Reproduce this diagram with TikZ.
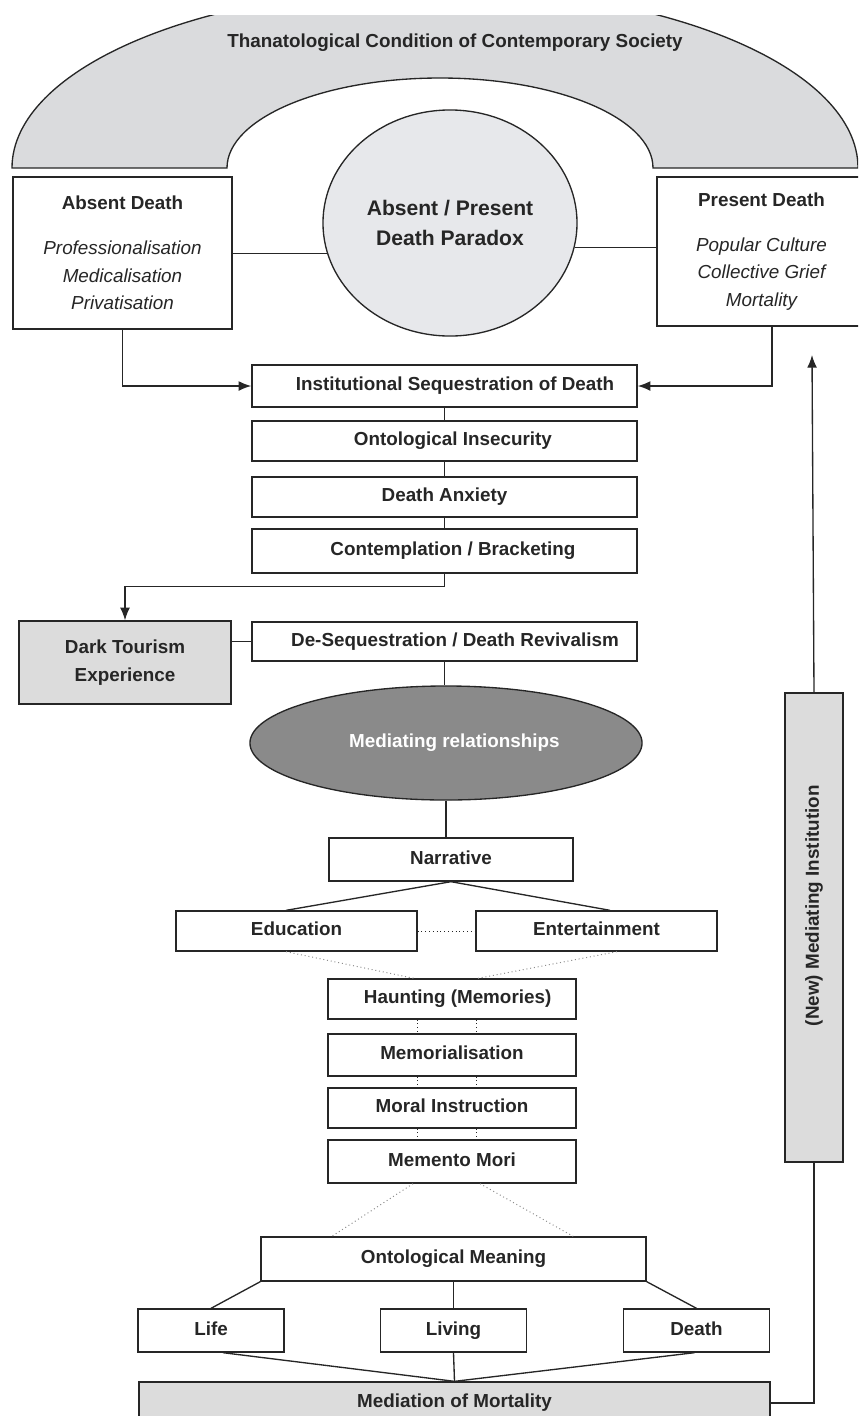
\documentclass[tikz,border=0pt]{standalone}
\usepackage{fontspec}
\setmainfont{Liberation Sans}
\usetikzlibrary{shapes.geometric,arrows.meta}

\definecolor{bandgrey}{HTML}{DADBDD}
\definecolor{circgrey}{HTML}{E7E8EB}
\definecolor{boxgrey}{HTML}{DCDCDC}
\definecolor{darkgrey}{HTML}{8A8A8A}
\newcommand{\itl}[1]{{\mdseries\itshape #1}}

\begin{document}
\begin{tikzpicture}[x=0.025cm, y=0.025cm, line width=0.95pt, color=black!85,
    >={Latex[length=9pt,width=7pt]},
    txt/.style={font=\fontsize{13.4}{19.6}\selectfont\bfseries},
    box/.style={txt, draw, rectangle, inner sep=0pt, minimum height=1.05cm, text height=9.7pt, text depth=2.9pt},
    multibox/.style={box, align=center, text height=, text depth=},
    widebox/.style={box, minimum width=9.625cm},
    midbox/.style={box, minimum width=6.2cm},
    greyfill/.style={fill=boxgrey},
    faintline/.style={dotted, black!45, line width=0.7pt},
    dotline/.style={dotted, line width=0.7pt}]
    \useasboundingbox (0,0) rectangle (858,-1416);
    \clip (0,0) rectangle (858,-1416);

    % arch
    \begin{scope}
        \clip (0,-15) rectangle (858,-200);
        \draw[fill=bandgrey] (12,-168) arc[start angle=180, end angle=0, x radius=423, y radius=180]
            -- (653,-168) arc[start angle=0, end angle=180, x radius=213, y radius=90] -- cycle;
    \end{scope}
    \node[txt] (title) at (455,-43) {Thanatological Condition of Contemporary Society};

    % paradox row
    \node[multibox, minimum width=5.475cm, minimum height=3.8cm] (absent) at (122.5,-253)
        {Absent Death\\[12.4pt]\itl{Professionalisation}\\\itl{Medicalisation}\\\itl{Privatisation}};
    \node[multibox, minimum width=5.225cm, minimum height=3.725cm] (present) at (761.5,-251.5)
        {Present Death\\[12.4pt]\itl{Popular Culture}\\\itl{Collective Grief}\\\itl{Mortality}};
    \node[draw, ellipse, fill=circgrey, inner sep=0pt, minimum width=6.35cm, minimum height=5.65cm,
        align=center, font=\fontsize{15}{21.3}\selectfont\bfseries] (paradox) at (450,-223)
        {Absent / Present\\Death Paradox};
    \draw (paradox.194) -- (paradox.194 -| absent.east);
    \draw (paradox.349) -- (paradox.349 -| present.west);

    % sequestration stack
    \node[widebox] (inst) at (444.5,-386) {\hspace*{15pt}Institutional Sequestration of Death};
    \node[widebox, minimum height=1cm] (insec) at (444.5,-441) {\hspace*{12pt}Ontological Insecurity};
    \node[widebox, minimum height=1cm] (anxiety) at (444.5,-497) {Death Anxiety};
    \node[widebox, minimum height=1.1cm] (contemp) at (444.5,-551) {\hspace*{12pt}Contemplation / Bracketing};
    \draw[->] (absent.south) |- (inst.west);
    \draw[->] ([xshift=0.26cm]present.south) |- (inst.east);
    \foreach \a/\b in {inst/insec, insec/anxiety, anxiety/contemp}
        \draw (\a) -- (\b);

    \node[multibox, greyfill, minimum width=5.3cm, minimum height=2.075cm] (dark) at (125,-662.5)
        {Dark Tourism\\Experience};
    \node[widebox, minimum height=0.975cm] (deseq) at (444.5,-641.5) {\hspace*{15pt}De-Sequestration / Death Revivalism};
    \draw[->] (contemp.south) -- ++(0,-13) -| (dark.north);
    \draw (dark.east |- deseq.west) -- (deseq.west);

    % mediating relationships
    \node[draw, ellipse, fill=darkgrey, txt, text=white, inner sep=0pt, minimum width=9.8cm,
        minimum height=2.85cm] (mediating) at (446,-743) {\hspace*{12pt}Mediating relationships};
    \draw (deseq.south) -- (deseq.south |- mediating.north);
    \node[box, minimum width=6.1cm, minimum height=1.075cm] (narrative) at (451,-859.5) {Narrative};
    \draw (mediating.south) -- (mediating.south |- narrative.north);

    \node[box, minimum width=6.025cm, minimum height=1cm] (education) at (296.5,-931) {Education};
    \node[box, minimum width=6.025cm, minimum height=1cm] (entertainment) at (596.5,-931) {Entertainment};
    \draw (narrative.south) -- ([xshift=-0.26cm]education.north);
    \draw (narrative.south) -- ([xshift=0.34cm]entertainment.north);
    \draw[dotline] (education) -- (entertainment);

    \node[midbox, minimum height=1cm] (haunting) at (452,-999) {\hspace*{8pt}Haunting (Memories)};
    \node[midbox] (memorial) at (452,-1055) {Memorialisation};
    \node[midbox, minimum height=1cm] (moral) at (452,-1108) {Moral Instruction};
    \node[midbox, minimum height=1.075cm] (memento) at (452,-1161.5) {Memento Mori};
    \draw[faintline] ([xshift=-0.26cm]education.south) -- ([xshift=-0.95cm]haunting.north);
    \draw[faintline] ([xshift=0.51cm]entertainment.south) -- ([xshift=0.65cm]haunting.north);
    \foreach \a/\b in {haunting/memorial, memorial/moral, moral/memento} {
        \draw[dotline] ([xshift=-0.875cm]\a.south) -- ([xshift=-0.875cm]\b.north);
        \draw[dotline] ([xshift=0.6cm]\a.south) -- ([xshift=0.6cm]\b.north);
    }

    % meaning
    \node[widebox, minimum height=1.1cm] (meaning) at (453.5,-1259) {Ontological Meaning};
    \draw[faintline] ([xshift=-0.975cm]memento.south) -- ([xshift=-3.04cm]meaning.north);
    \draw[faintline] ([xshift=0.7cm]memento.south) -- ([xshift=2.99cm]meaning.north);
    \node[box, minimum width=3.65cm, minimum height=1.075cm] (life) at (211,-1330.5) {Life};
    \node[box, minimum width=3.65cm, minimum height=1.075cm] (living) at (453.5,-1330.5) {Living};
    \node[box, minimum width=3.65cm, minimum height=1.075cm] (death) at (696.5,-1330.5) {Death};
    \draw (meaning.south west) -- (life.north);
    \draw (meaning.south) -- (living.north);
    \draw (meaning.south east) -- (death.north);

    \node[box, greyfill, minimum width=15.775cm, minimum height=1.05cm] (mediation) at (454.5,-1403)
        {Mediation of Mortality};
    \draw ([xshift=0.3cm]life.south) -- (mediation.north);
    \draw (living.south) -- (mediation.north);
    \draw ([xshift=-0.05cm]death.south) -- (mediation.north);

    % feedback loop
    \node[box, greyfill, rotate=90, minimum width=11.725cm, minimum height=1.45cm] (newinst) at (814,-927.5)
        {\hspace*{31pt}(New) Mediating Institution};
    \coordinate (loopend) at (812,-355);
    \draw (mediation.east) -| (newinst.west);
    \draw[->] (newinst.east) -- (loopend);
\end{tikzpicture}
\end{document}
